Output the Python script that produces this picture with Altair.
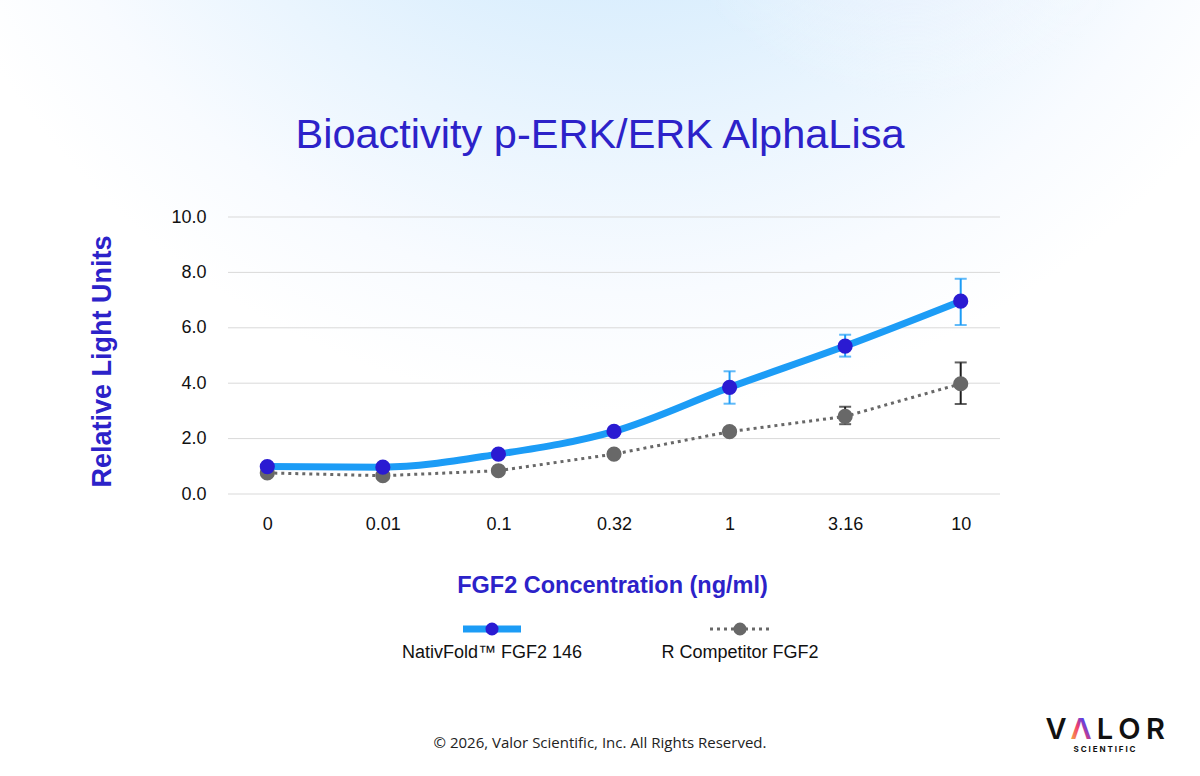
import altair as alt
import pandas as pd

# ---------------- data ----------------
concentrations = ["0", "0.01", "0.1", "0.32", "1", "3.16", "10"]

nativ_mean = [0.99, 0.97, 1.44, 2.26, 3.85, 5.34, 6.96]
nativ_low = [None, None, None, None, 3.26, 4.96, 6.10]
nativ_high = [None, None, None, None, 4.43, 5.75, 7.77]

comp_mean = [0.76, 0.66, 0.84, 1.44, 2.25, 2.80, 3.98]
comp_low = [None, None, None, None, 2.13, 2.52, 3.25]
comp_high = [None, None, None, None, 2.39, 3.15, 4.75]

series_names = ["NativFold\u2122 FGF2 146", "R Competitor FGF2"]
y_ticks = [0, 2, 4, 6, 8, 10]

title_text = "Bioactivity p-ERK/ERK AlphaLisa"
x_title = "FGF2 Concentration (ng/ml)"
y_title = "Relative Light Units"
footer_text = "\u00a9 2026, Valor Scientific, Inc. All Rights Reserved."


def frame(means, lows, highs):
    return pd.DataFrame({"conc": concentrations, "mean": means, "low": lows, "high": highs})


def err_frame(lows, highs):
    rows = [
        {"conc": c, "low": lo, "high": hi}
        for c, lo, hi in zip(concentrations, lows, highs)
        if lo is not None
    ]
    return pd.DataFrame(rows)


nativ = frame(nativ_mean, nativ_low, nativ_high)
comp = frame(comp_mean, comp_low, comp_high)
nativ_err = err_frame(nativ_low, nativ_high)
comp_err = err_frame(comp_low, comp_high)
grid_df = pd.DataFrame({"v": y_ticks})

# ---------------- style ----------------
W, H = 772, 277
LEFT, TOP = 228, 217
RIGHT = 1200 - LEFT - W
BOTTOM = 776 - TOP - H

BLUE_LINE = "#1c9cf6"
BLUE_DOT = "#2a1bd2"
GRAY_DOT = "#686868"
GRAY_ERR = "#1e1e1e"
TITLE_BLUE = "#2c22c9"
FONT = "Liberation Sans"

x_scale = alt.Scale(type="point", padding=0.34)
y_scale = alt.Scale(domain=[0, 10], nice=False, zero=True)

x_enc = alt.X(
    "conc:N",
    sort=concentrations,
    scale=x_scale,
    axis=alt.Axis(
        title=x_title,
        labelAngle=0,
        labelFont=FONT,
        labelFontSize=18,
        labelColor="#111111",
        labelPadding=21,
        ticks=False,
        domain=False,
        grid=False,
        zindex=1,
        titleFont=FONT,
        titleFontSize=23.5,
        titleFontWeight="bold",
        titleColor=TITLE_BLUE,
        titleX=384,
        titleY=91,
        titleBaseline="middle",
        titleAlign="center",
    ),
)


def y_enc(field):
    return alt.Y(
        field,
        scale=y_scale,
        axis=alt.Axis(
            title=y_title,
            values=y_ticks,
            format=".1f",
            labelFont=FONT,
            labelFontSize=18,
            labelColor="#111111",
            labelPadding=22,
            ticks=False,
            domain=False,
            grid=False,
            zindex=1,
            titleFont=FONT,
            titleFontSize=27,
            titleFontWeight="bold",
            titleColor=TITLE_BLUE,
            titleAngle=270,
            titleX=-126,
            titleY=144,
            titleBaseline="middle",
            titleAlign="center",
        ),
    )


one = alt.Data(values=[{}])

# ---------------- background ----------------
bg_main = alt.Chart(one).mark_rect(
    fill=alt.RadialGradient(
        gradient="radial",
        x1=0.52, y1=-0.1, r1=0,
        x2=0.52, y2=-0.1, r2=0.62,
        stops=[
            alt.GradientStop(offset=0, color="#c6e3fb"),
            alt.GradientStop(offset=0.4, color="#d8edfd"),
            alt.GradientStop(offset=0.64, color="#eaf5fe"),
            alt.GradientStop(offset=0.84, color="#f8fbff"),
            alt.GradientStop(offset=1, color="#ffffff"),
        ],
    )
).encode(
    x=alt.value(-LEFT), x2=alt.value(1200 - LEFT),
    y=alt.value(-TOP), y2=alt.value(776 - TOP),
)

bg_lav = alt.Chart(one).mark_rect(
    fill=alt.RadialGradient(
        gradient="radial",
        x1=0.76, y1=0.04, r1=0,
        x2=0.76, y2=0.04, r2=0.22,
        stops=[
            alt.GradientStop(offset=0, color="rgba(226,224,252,0.8)"),
            alt.GradientStop(offset=1, color="rgba(255,255,255,0)"),
        ],
    )
).encode(
    x=alt.value(-LEFT), x2=alt.value(1200 - LEFT),
    y=alt.value(-TOP), y2=alt.value(776 - TOP),
)

# gridlines (drawn above background, below data)
grid = alt.Chart(grid_df).mark_rule(color="#d9d9d9", strokeWidth=1).encode(
    y=y_enc("v:Q"), x=alt.value(0), x2=alt.value(W)
)

# ---------------- data layers ----------------
comp_line = alt.Chart(comp).mark_line(
    color=GRAY_DOT, strokeWidth=3, strokeDash=[3, 4]
).encode(x=x_enc, y=y_enc("mean:Q"))

comp_rule = alt.Chart(comp_err).mark_rule(color=GRAY_ERR, strokeWidth=2).encode(
    x=x_enc, y=y_enc("low:Q"), y2="high:Q"
)
comp_cap_lo = alt.Chart(comp_err).mark_tick(
    color=GRAY_ERR, thickness=2, size=12, orient="horizontal"
).encode(x=x_enc, y=y_enc("low:Q"))
comp_cap_hi = alt.Chart(comp_err).mark_tick(
    color=GRAY_ERR, thickness=2, size=12, orient="horizontal"
).encode(x=x_enc, y=y_enc("high:Q"))

comp_pts = alt.Chart(comp).mark_point(
    filled=True, color=GRAY_DOT, size=230, opacity=1
).encode(x=x_enc, y=y_enc("mean:Q"))

nativ_line = alt.Chart(nativ).mark_line(
    color=BLUE_LINE, strokeWidth=7, interpolate="monotone"
).encode(x=x_enc, y=y_enc("mean:Q"))

nativ_rule = alt.Chart(nativ_err).mark_rule(color=BLUE_LINE, strokeWidth=2).encode(
    x=x_enc, y=y_enc("low:Q"), y2="high:Q"
)
nativ_cap_lo = alt.Chart(nativ_err).mark_tick(
    color=BLUE_LINE, thickness=2, size=12, orient="horizontal"
).encode(x=x_enc, y=y_enc("low:Q"))
nativ_cap_hi = alt.Chart(nativ_err).mark_tick(
    color=BLUE_LINE, thickness=2, size=12, orient="horizontal"
).encode(x=x_enc, y=y_enc("high:Q"))

nativ_pts = alt.Chart(nativ).mark_point(
    filled=True, color=BLUE_DOT, size=230, opacity=1
).encode(x=x_enc, y=y_enc("mean:Q"))

# ---------------- legend ----------------
LEG_Y = 412
LAB_Y = 436
leg1_x, leg2_x = 264, 512

leg = [
    alt.Chart(one).mark_rule(color=BLUE_LINE, strokeWidth=7).encode(
        x=alt.value(leg1_x - 29), x2=alt.value(leg1_x + 29), y=alt.value(LEG_Y)
    ),
    alt.Chart(one).mark_point(filled=True, color=BLUE_DOT, size=170, opacity=1).encode(
        x=alt.value(leg1_x), y=alt.value(LEG_Y)
    ),
    alt.Chart(one).mark_text(
        text=series_names[0], font=FONT, fontSize=18, color="#111111",
        align="center", baseline="middle",
    ).encode(x=alt.value(leg1_x), y=alt.value(LAB_Y)),
    alt.Chart(one).mark_rule(color=GRAY_DOT, strokeWidth=3, strokeDash=[3, 4]).encode(
        x=alt.value(leg2_x - 30), x2=alt.value(leg2_x + 31), y=alt.value(LEG_Y)
    ),
    alt.Chart(one).mark_point(filled=True, color=GRAY_DOT, size=170, opacity=1).encode(
        x=alt.value(leg2_x), y=alt.value(LEG_Y)
    ),
    alt.Chart(one).mark_text(
        text=series_names[1], font=FONT, fontSize=18, color="#111111",
        align="center", baseline="middle",
    ).encode(x=alt.value(leg2_x), y=alt.value(LAB_Y)),
]

# ---------------- annotations ----------------
title = alt.Chart(one).mark_text(
    text=title_text, font=FONT, fontSize=41.5, color=TITLE_BLUE,
    align="center", baseline="alphabetic",
).encode(x=alt.value(600 - LEFT), y=alt.value(148 - TOP))

footer = alt.Chart(one).mark_text(
    text=footer_text, font="Open Sans", fontSize=15, color="#222222",
    align="center", baseline="middle",
).encode(x=alt.value(600 - LEFT), y=alt.value(743 - TOP))

logo_letters = [("V", 1056), ("L", 1105), ("O", 1129.5), ("R", 1155.5)]
logo = [
    alt.Chart(one).mark_text(
        text=ch, font="Inter", fontSize=29, fontWeight=600, color="#111111",
        align="center", baseline="alphabetic",
    ).encode(x=alt.value(cx - LEFT), y=alt.value(739 - TOP))
    for ch, cx in logo_letters
]
logo.append(
    alt.Chart(one).mark_text(
        text="\u039b", font="Inter", fontSize=29, fontWeight=600,
        fill=alt.LinearGradient(
            gradient="linear", x1=0, y1=1, x2=1, y2=0,
            stops=[
                alt.GradientStop(offset=0, color="#f7c23a"),
                alt.GradientStop(offset=0.45, color="#f23d6e"),
                alt.GradientStop(offset=0.7, color="#4f3ff0"),
                alt.GradientStop(offset=1, color="#1a9cf6"),
            ],
        ),
        align="center", baseline="alphabetic",
    ).encode(x=alt.value(1081 - LEFT), y=alt.value(739 - TOP))
)
logo.append(
    alt.Chart(one).mark_text(
        text="S C I E N T I F I C", font="Inter", fontSize=8, fontWeight=700,
        color="#111111", align="center", baseline="alphabetic",
    ).encode(x=alt.value(1104.5 - LEFT), y=alt.value(752 - TOP))
)

chart = alt.layer(
    bg_main, bg_lav, grid,
    comp_line, comp_rule, comp_cap_lo, comp_cap_hi, comp_pts,
    nativ_line, nativ_rule, nativ_cap_lo, nativ_cap_hi, nativ_pts,
    *leg, title, footer, *logo,
).properties(
    width=W, height=H,
    autosize=alt.AutoSizeParams(type="none"),
    padding={"left": LEFT, "top": TOP, "right": RIGHT, "bottom": BOTTOM},
    background="#ffffff",
).configure_view(strokeWidth=0)

chart.save("out.html", embed_options={"renderer": "svg", "actions": False})
